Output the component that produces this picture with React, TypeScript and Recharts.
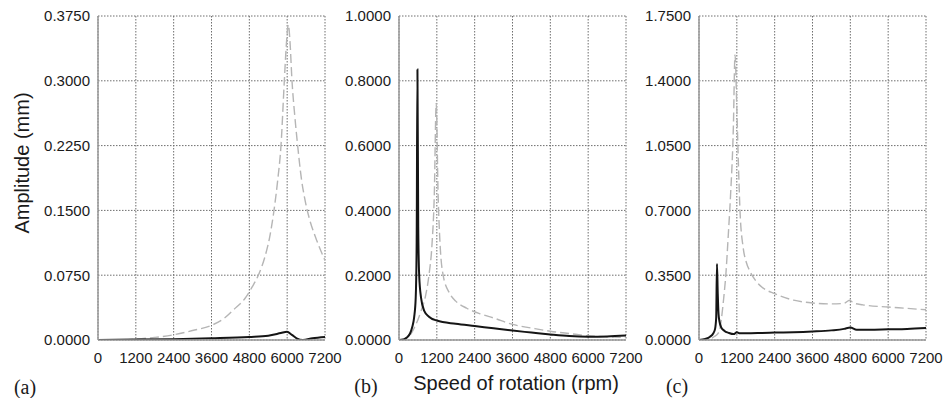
import React from 'react';
import { LineChart, Line, XAxis, YAxis, CartesianGrid } from 'recharts';

// x ticks shared by all three panels (rpm)
const rpmTicks = [0, 1200, 2400, 3600, 4800, 6000, 7200];

// (a)
const aTicks = [0, 0.075, 0.15, 0.225, 0.3, 0.375];
const aDashRpm = [0, 600, 1200, 1800, 2400, 3000, 3600, 4000, 4300, 4660, 4900, 5085, 5300, 5450, 5582, 5700, 5804, 5910, 5980, 6037, 6090, 6153, 6240, 6333, 6450, 6550, 6700, 6900, 7200];
const aDashAmp = [0, 0, 0.001, 0.003, 0.006, 0.011, 0.017, 0.025, 0.035, 0.048, 0.062, 0.075, 0.097, 0.12, 0.15, 0.185, 0.225, 0.3, 0.345, 0.365, 0.345, 0.3, 0.26, 0.225, 0.187, 0.165, 0.141, 0.119, 0.092];
const aSolidRpm = [0, 1200, 2400, 3600, 4800, 5400, 5800, 5995, 6150, 6300, 6500, 6800, 7200];
const aSolidAmp = [0, 0.0005, 0.001, 0.002, 0.0035, 0.005, 0.008, 0.0095, 0.006, 0.002, 0.0, 0.002, 0.0035];

// (b)
const bTicks = [0, 0.2, 0.4, 0.6, 0.8, 1.0];
const bSolidRpm = [0, 150, 250, 350, 420, 480, 530, 560, 585, 610, 640, 700, 800, 950, 1200, 1800, 2400, 3000, 3600, 4200, 4800, 5400, 6000, 6600, 7200];
const bSolidAmp = [0, 0.002, 0.008, 0.02, 0.04, 0.07, 0.13, 0.3, 0.835, 0.35, 0.2, 0.13, 0.09, 0.072, 0.06, 0.05, 0.043, 0.036, 0.029, 0.023, 0.017, 0.012, 0.01, 0.011, 0.014];
const bDashRpm = [0, 300, 500, 700, 850, 950, 1050, 1120, 1180, 1240, 1300, 1400, 1600, 1800, 2150, 2600, 3000, 3600, 4200, 4800, 5400, 6000, 6600, 7200];
const bDashAmp = [0, 0.01, 0.04, 0.09, 0.14, 0.2, 0.3, 0.45, 0.73, 0.45, 0.3, 0.2, 0.145, 0.12, 0.098, 0.08, 0.068, 0.048, 0.037, 0.027, 0.02, 0.013, 0.01, 0.008];

// (c)
const cTicks = [0, 0.35, 0.7, 1.05, 1.4, 1.75];
const cSolidRpm = [0, 200, 350, 450, 510, 545, 570, 595, 620, 650, 700, 800, 950, 1100, 1200, 1300, 1500, 2000, 2400, 3000, 3600, 4200, 4600, 4800, 5000, 5400, 6000, 6600, 7200];
const cSolidAmp = [0, 0.006, 0.018, 0.035, 0.06, 0.12, 0.41, 0.25, 0.14, 0.1, 0.07, 0.05, 0.038, 0.032, 0.042, 0.036, 0.036, 0.038, 0.04, 0.042, 0.046, 0.052, 0.06, 0.068, 0.056, 0.056, 0.058, 0.06, 0.065];
const cDashRpm = [0, 300, 500, 600, 650, 700, 780, 850, 930, 1000, 1090, 1142, 1200, 1250, 1300, 1400, 1500, 1620, 1800, 2000, 2400, 3000, 3600, 4200, 4600, 4780, 4900, 5200, 6000, 6600, 7200];
const cDashAmp = [0, 0.005, 0.02, 0.035, 0.05, 0.1, 0.22, 0.35, 0.57, 0.78, 1.15, 1.54, 1.25, 0.95, 0.7, 0.5, 0.42, 0.37, 0.32, 0.285, 0.25, 0.215, 0.2, 0.195, 0.198, 0.215, 0.2, 0.19, 0.178, 0.171, 0.163];

const toPoints = (rpm: number[], amp: number[]) => rpm.map((r, i) => ({ rpm: r, amp: amp[i] }));

const sans = '"Liberation Sans", Arial, Helvetica, sans-serif';
const serif = '"Liberation Serif", "Times New Roman", serif';
const tickStyle = { fontSize: 15, fill: '#1a1a1a', fontFamily: sans };

interface PanelProps {
  left: number;
  axisWidth: number;
  yTicks: number[];
  solid: { rpm: number; amp: number }[];
  dashed: { rpm: number; amp: number }[];
}

const PLOT_W = 227;

const Panel: React.FC<PanelProps> = ({ left, axisWidth, yTicks, solid, dashed }) => (
  <div style={{ position: 'absolute', left, top: 0 }}>
    <LineChart width={axisWidth + PLOT_W + 20} height={398} margin={{ top: 16, right: 20, left: 0, bottom: 28 }}>
      <CartesianGrid stroke="#6e6e6e" strokeDasharray="1.5 1.5" strokeWidth={1} />
      <XAxis
        type="number"
        dataKey="rpm"
        domain={[0, 7200]}
        ticks={rpmTicks}
        interval={0}
        height={30}
        tickLine={false}
        tickMargin={6}
        axisLine={{ stroke: '#999', strokeWidth: 1.5 }}
        tick={tickStyle}
        allowDataOverflow
      />
      <YAxis
        type="number"
        domain={[yTicks[0], yTicks[yTicks.length - 1]]}
        ticks={yTicks}
        interval={0}
        width={axisWidth}
        tickLine={false}
        axisLine={{ stroke: '#999', strokeWidth: 1.5 }}
        tick={tickStyle}
        tickFormatter={(v: number) => v.toFixed(4)}
        allowDataOverflow
      />
      <Line
        data={dashed}
        dataKey="amp"
        type="monotone"
        stroke="#b5b5b5"
        strokeWidth={1.4}
        strokeDasharray="9 4"
        dot={false}
        isAnimationActive={false}
      />
      <Line
        data={solid}
        dataKey="amp"
        type="monotone"
        stroke="#151515"
        strokeWidth={2}
        dot={false}
        isAnimationActive={false}
      />
    </LineChart>
  </div>
);

const textBase: React.CSSProperties = { position: 'absolute', whiteSpace: 'nowrap', color: '#1a1a1a', lineHeight: 1 };

export default function App() {
  return (
    <div style={{ position: 'absolute', left: 0, top: 0, width: 945, height: 398, background: '#fff', overflow: 'hidden' }}>
      <Panel left={0} axisWidth={98} yTicks={aTicks} solid={toPoints(aSolidRpm, aSolidAmp)} dashed={toPoints(aDashRpm, aDashAmp)} />
      <Panel left={310} axisWidth={89} yTicks={bTicks} solid={toPoints(bSolidRpm, bSolidAmp)} dashed={toPoints(bDashRpm, bDashAmp)} />
      <Panel left={615} axisWidth={84} yTicks={cTicks} solid={toPoints(cSolidRpm, cSolidAmp)} dashed={toPoints(cDashRpm, cDashAmp)} />

      <div
        style={{
          ...textBase,
          left: 22,
          top: 163,
          fontFamily: sans,
          fontSize: 20,
          transform: 'translate(-50%, -50%) rotate(-90deg)',
        }}
      >
        Amplitude (mm)
      </div>
      <div style={{ ...textBase, left: 516, top: 383, fontFamily: sans, fontSize: 20, transform: 'translate(-50%, -50%)' }}>
        Speed of rotation (rpm)
      </div>
      <div style={{ ...textBase, left: 25, top: 387, fontFamily: serif, fontSize: 20, transform: 'translate(-50%, -50%)' }}>(a)</div>
      <div style={{ ...textBase, left: 366, top: 386, fontFamily: serif, fontSize: 20, transform: 'translate(-50%, -50%)' }}>(b)</div>
      <div style={{ ...textBase, left: 677, top: 386, fontFamily: serif, fontSize: 20, transform: 'translate(-50%, -50%)' }}>(c)</div>
    </div>
  );
}
